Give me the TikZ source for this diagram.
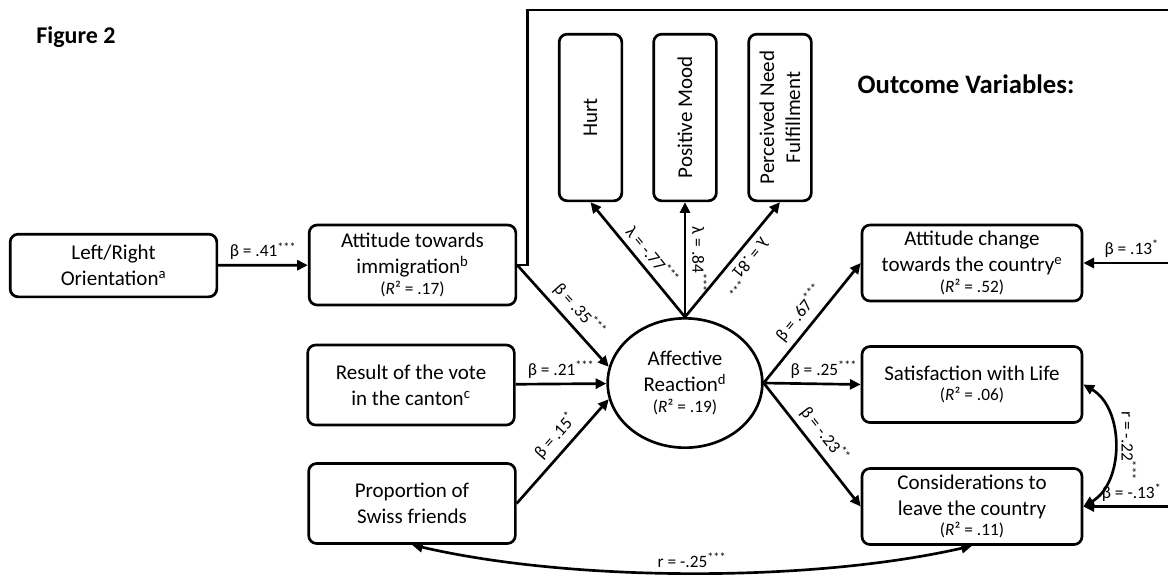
\documentclass[tikz,border=0pt]{standalone}
\usepackage{fontspec}
\setmainfont{Carlito}
\usetikzlibrary{arrows.meta,shapes.geometric}

\newcommand{\rsq}[1]{{\fontsize{13}{15}\selectfont(\textit{R}² = #1)}}

\begin{document}
\begin{tikzpicture}[
    x=0.75pt, y=0.75pt,
    box/.style={rectangle, rounded corners=6pt, draw=black, line width=2pt,
                align=center, inner sep=2pt,
                font=\fontsize{15.75}{19.5}\selectfont},
    pbox/.style={box, minimum width=155pt, minimum height=60pt},
    obox/.style={box, minimum width=165pt, minimum height=57pt},
    vbox/.style={box, rotate=90, minimum width=125pt, minimum height=47pt},
    lat/.style={ellipse, draw=black, line width=2pt, align=center,
                minimum width=116pt, minimum height=97pt, inner sep=0pt,
                font=\fontsize{15.75}{19.5}\selectfont},
    arr/.style={-{Triangle[length=8pt,width=7.5pt]}, line width=2pt},
    dbl/.style={{Triangle[length=8pt,width=7.5pt]}-{Triangle[length=8pt,width=7.5pt]},
                line width=2pt},
    lab/.style={font=\fontsize{13}{15}\selectfont, inner sep=3pt},
    slab/.style={lab, inner sep=4.5pt},
    hd/.style={font=\bfseries\fontsize{18}{21}\selectfont},
]
\useasboundingbox (0,0) rectangle (1168,-576);
\clip (0,0) rectangle (1168,-576);

% --- Headings ---
\node[hd] (fig) at (76,-37) {Figure 2};
\node[hd, font=\bfseries\fontsize{20}{24}\selectfont] (outc) at (966,-84) {Outcome Variables:};

% --- Predictors ---
\node[pbox, minimum height=47pt] (lr) at (113.5,-265.5) {Left/Right\\Orientation\textsuperscript{a}};
\node[pbox] (att) at (412.5,-265) {Attitude towards\\immigration\textsuperscript{b}\\[-4pt]\rsq{.17}};
\node[pbox] (res) at (411,-385) {Result of the vote\\in the canton\textsuperscript{c}};
\node[pbox] (prop) at (412,-503.5) {Proportion of\\Swiss friends};

% --- Affective reaction and its indicators ---
\node[lat] (aff) at (685,-383) {Affective\\Reaction\textsuperscript{d}\\[-4pt]\rsq{.19}};
\node[vbox] (hurt) at (590.5,-117.5) {Hurt};
\node[vbox] (mood) at (685,-117.5) {Positive Mood};
\node[vbox] (pnf) at (780,-117.5) {Perceived Need\\Fulfillment};

% --- Outcomes ---
\node[obox] (chg) at (972,-263) {Attitude change\\towards the country\textsuperscript{e}\\[-4pt]\rsq{.52}};
\node[obox] (sat) at (972,-384.5) {Satisfaction with Life\\[-4pt]\rsq{.06}};
\node[obox] (cons) at (972,-506.5) {Considerations to\\leave the country\\[-4pt]\rsq{.11}};

% --- Direct path from attitude (runs over the top) ---
\coordinate (tr) at (1180,-10);
\draw[line width=2pt] (att.east) -- ++(10,0) |- (tr) -- (tr |- cons.east);
\draw[arr] (tr |- chg.east) -- node[lab, above] {β = .13\textsuperscript{*}} (chg.east);
\draw[arr] (tr |- cons.east) -- node[lab, above] {β = -.13\textsuperscript{*}} (cons.east);

% --- Paths into the mediator ---
\draw[arr] (lr) -- node[lab, above] {β = .41\textsuperscript{***}} (att);
\draw[arr] (att.east) -- node[slab, sloped, above, pos=.55] {β = .35\textsuperscript{***}} (aff.168);
\draw[arr] (res) -- node[lab, above] {β = .21\textsuperscript{***}} (aff);
\draw[arr] (prop.east) -- node[slab, sloped, above, pos=.55] {β = .15\textsuperscript{*}} (aff.192);

% --- Loadings ---
\draw[arr] (aff.north) -- node[slab, sloped, above, pos=.46] {λ = -.77\textsuperscript{***}} (hurt.west);
\draw[arr] (aff.north) -- node[slab, rotate=-90, anchor=south, pos=.5] {λ = .84\textsuperscript{***}} (mood.west);
\draw[arr] (aff.north) -- node[slab, rotate=-129.5, anchor=south, pos=.52] {λ = .81\textsuperscript{***}} (pnf.west);

% --- Paths to the outcomes ---
\draw[arr] (aff.east) -- node[slab, sloped, above] {β = .67\textsuperscript{***}} (chg.west);
\draw[arr] (aff.east) -- node[lab, above, pos=.62] {β = .25\textsuperscript{***}} (sat.west);
\draw[arr] (aff.east) -- node[slab, sloped, above] {β = -.23\textsuperscript{**}} (cons.west);

% --- Correlations ---
\draw[dbl] (sat.east) to[bend left=60] node[slab, rotate=-90, anchor=south] {r = -.22\textsuperscript{***}} (cons.east);
\draw[dbl] (prop.south) to[bend right=13, looseness=.75] node[lab, above] {r = -.25\textsuperscript{***}} (cons.south);

\end{tikzpicture}
\end{document}
